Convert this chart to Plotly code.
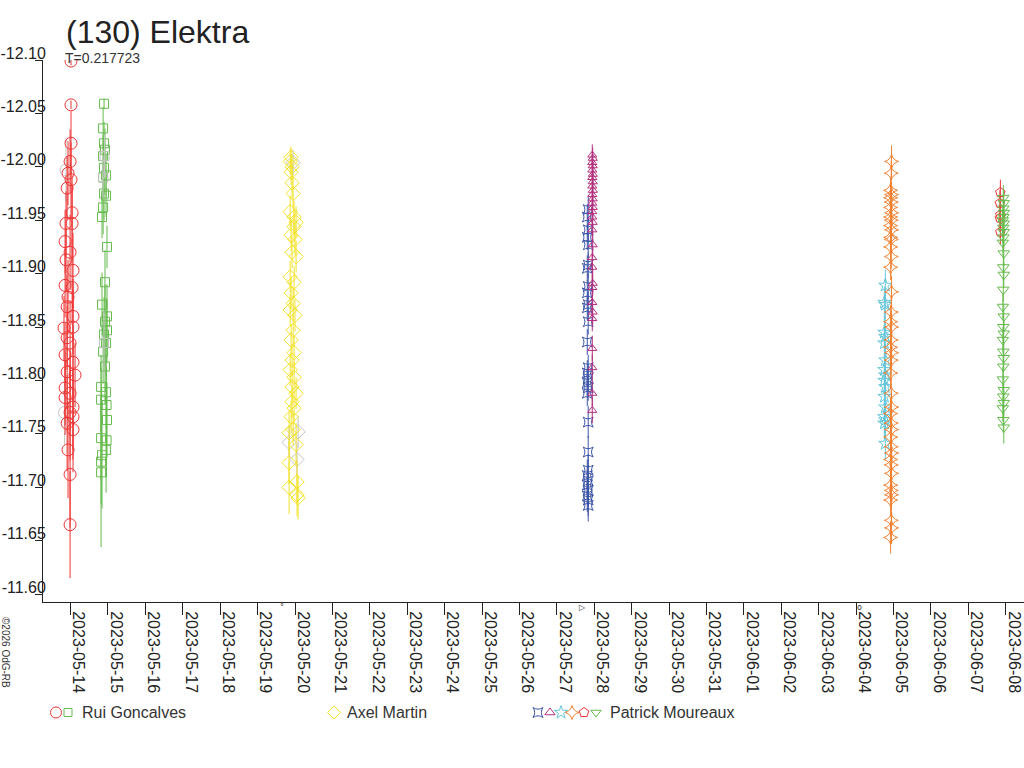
import pandas as pd
import plotly.graph_objects as go

# ---------------- data ----------------
title_text = "(130) Elektra"
subtitle_text = "T=0.217723"
copyright_text = "©2026 OdG-RB"

y_ticks = [-12.10, -12.05, -12.00, -11.95, -11.90, -11.85, -11.80, -11.75, -11.70, -11.65, -11.60]

# Rui Goncalves, red circles (hours relative to 2023-05-14 00:00)
rui_c_ref = "2023-05-14 00:00"
rui_c_h = [0.3, 0.3, 0.3, -0.3, -1.6, 0.3, -2.2, 1.0, -2.9, 1.0, -3.5, -0.3, -2.9, 1.6, -3.5, 1.0,
           -1.6, -2.2, 1.6, -4.2, 1.6, -2.2, -0.3, -3.5, 1.6, -2.2, 2.9, -3.5, -0.3, -3.5, 1.6, -0.3,
           1.6, -2.2, 1.6, -1.6, -0.3, -0.3]
rui_c_mag = [-12.099, -12.058, -12.022, -12.005, -11.994, -11.988, -11.980, -11.957, -11.947, -11.947,
             -11.930, -11.920, -11.913, -11.903, -11.889, -11.887, -11.878, -11.869, -11.860, -11.849,
             -11.850, -11.840, -11.835, -11.824, -11.817, -11.808, -11.805, -11.793, -11.788, -11.784,
             -11.775, -11.770, -11.766, -11.760, -11.754, -11.735, -11.712, -11.665]
rui_c_err = [0.004, 0.004, 0.030, 0.030, 0.030, 0.035, 0.030, 0.035, 0.030, 0.035, 0.030, 0.035,
             0.030, 0.035, 0.030, 0.035, 0.035, 0.030, 0.035, 0.030, 0.035, 0.030, 0.040, 0.030,
             0.035, 0.035, 0.030, 0.035, 0.040, 0.035, 0.040, 0.045, 0.040, 0.045, 0.040, 0.045,
             0.050, 0.050]

# Rui Goncalves, green squares (hours relative to 2023-05-15 00:00)
rui_s_ref = "2023-05-15 00:00"
rui_s_h = [-2.5, -3.1, -2.5, -1.9, -3.1, -2.5, -1.2, -3.1, -2.5, -1.2, -3.1, -3.8, -0.6, -1.9, -3.8,
           -0.6, -1.9, -0.6, -2.5, -1.2, -3.1, -1.9, -4.4, -1.2, -4.4, -0.9, -0.6, -4.4, -0.9, -1.2,
           -3.8, -4.4, -4.4]
rui_s_mag = [-12.059, -12.036, -12.022, -12.016, -12.010, -11.999, -11.992, -11.990, -11.975, -11.973,
             -11.962, -11.953, -11.925, -11.892, -11.871, -11.860, -11.855, -11.847, -11.843, -11.835,
             -11.827, -11.813, -11.794, -11.789, -11.782, -11.777, -11.763, -11.746, -11.744, -11.735,
             -11.730, -11.724, -11.714]
rui_s_err = [0.005, 0.020, 0.020, 0.020, 0.020, 0.025, 0.020, 0.020, 0.025, 0.020, 0.025, 0.020,
             0.020, 0.030, 0.030, 0.030, 0.035, 0.030, 0.035, 0.030, 0.030, 0.035, 0.030, 0.035,
             0.030, 0.035, 0.035, 0.040, 0.035, 0.040, 0.050, 0.040, 0.070]

# Axel Martin, yellow diamonds (hours relative to 2023-05-20 00:00)
axel_ref = "2023-05-20 00:00"
axel_h = [-2.5, -3.1, -1.9, -2.5, -1.9, -1.2, -3.1, -0.6, 0.7, -0.6, -2.5, 0.0, -1.9, 0.7, -3.1,
          -0.6, -2.5, -1.2, -3.1, 0.0, -1.2, -2.5, -0.6, -1.9, -3.1, -0.6, -1.9, 0.7, -1.9, -0.6,
          -2.5, -1.2, -3.8, 0.7, -3.8, 1.3, -3.8, 1.3, 2.0]
axel_mag = [-12.009, -12.005, -12.000, -11.995, -11.985, -11.975, -11.958, -11.953, -11.948, -11.944,
            -11.936, -11.932, -11.920, -11.916, -11.897, -11.892, -11.882, -11.872, -11.866, -11.861,
            -11.847, -11.838, -11.826, -11.819, -11.810, -11.803, -11.794, -11.788, -11.780, -11.774,
            -11.766, -11.754, -11.751, -11.740, -11.723, -11.705, -11.700, -11.693, -11.690]
axel_err = [0.010, 0.012, 0.012, 0.012, 0.015, 0.015, 0.015, 0.015, 0.015, 0.015, 0.015, 0.015,
            0.015, 0.015, 0.015, 0.015, 0.015, 0.015, 0.015, 0.015, 0.015, 0.015, 0.015, 0.015,
            0.015, 0.015, 0.015, 0.015, 0.015, 0.015, 0.015, 0.015, 0.020, 0.020, 0.020, 0.020,
            0.025, 0.020, 0.020]
axel_grey_h = [-3.8, 2.0, 1.3, -1.2]
axel_grey_mag = [-11.742, -11.752, -11.726, -12.004]
axel_grey_err = [0.015, 0.015, 0.015, 0.012]

# Patrick Moureaux, blue (hours relative to 2023-05-28 00:00)
pm_ref1 = "2023-05-28 00:00"
pm_b_h = [-3.9, -4.5, -3.9, -4.5, -3.9, -3.9, -4.5, -3.9, -4.5, -3.9, -4.5, -3.9, -4.5, -3.9, -4.5,
          -3.9, -4.5, -3.9, -4.5, -3.9, -3.9, -3.9, -4.5, -3.9, -4.5, -3.9, -4.5, -3.9, -3.9]
pm_b_mag = [-11.960, -11.953, -11.941, -11.934, -11.927, -11.908, -11.905, -11.888, -11.882, -11.871,
            -11.868, -11.855, -11.836, -11.812, -11.807, -11.802, -11.798, -11.793, -11.788, -11.761,
            -11.733, -11.716, -11.711, -11.706, -11.702, -11.697, -11.692, -11.688, -11.683]
pm_b_err = [0.012, 0.012, 0.012, 0.012, 0.012, 0.012, 0.012, 0.012, 0.012, 0.012, 0.012, 0.012,
            0.012, 0.012, 0.012, 0.012, 0.012, 0.012, 0.012, 0.015, 0.015, 0.015, 0.015, 0.015,
            0.015, 0.015, 0.015, 0.015, 0.015]

# Patrick Moureaux, magenta triangles
pm_m_h = [-1.3, -1.0, -1.3, -1.0, -1.3, -0.9, -1.3, -1.0, -1.3, -0.9, -1.3, -1.0, -1.3, -1.0, -1.3,
          -1.3, -1.0, -1.3, -1.0, -1.3, -1.3, -1.0, -1.3, -1.3, -1.0, -1.3, -1.3, -1.3, -1.3, -1.3]
pm_m_mag = [-12.011, -12.008, -12.004, -12.001, -11.997, -11.993, -11.990, -11.986, -11.982, -11.978,
            -11.974, -11.970, -11.966, -11.962, -11.958, -11.953, -11.948, -11.941, -11.927, -11.915,
            -11.906, -11.891, -11.887, -11.873, -11.864, -11.858, -11.830, -11.812, -11.788, -11.772]
pm_m_err = [0.010, 0.010, 0.010, 0.010, 0.010, 0.010, 0.010, 0.010, 0.010, 0.010, 0.010, 0.010,
            0.010, 0.010, 0.010, 0.010, 0.010, 0.010, 0.012, 0.012, 0.012, 0.012, 0.012, 0.012,
            0.012, 0.012, 0.012, 0.012, 0.012, 0.012]

# Patrick Moureaux, cyan stars (hours relative to 2023-06-05 00:00)
pm_ref2 = "2023-06-05 00:00"
pm_c_h = [-5.3, -5.9, -5.3, -5.9, -5.3, -5.9, -5.3, -5.9, -5.3, -5.9, -5.3, -5.9, -5.3, -5.9,
          -5.3, -5.9, -5.3]
pm_c_mag = [-11.889, -11.873, -11.871, -11.845, -11.841, -11.835, -11.819, -11.810, -11.805, -11.800,
            -11.794, -11.785, -11.775, -11.766, -11.763, -11.760, -11.741]
pm_c_err = [0.015, 0.015, 0.015, 0.015, 0.015, 0.015, 0.015, 0.015, 0.015, 0.015, 0.015, 0.015,
            0.015, 0.015, 0.015, 0.015, 0.015]

# Patrick Moureaux, orange four-point stars
pm_o_h = [-1.3, -1.5, -1.9, -1.3, -1.9, -1.5, -1.9, -1.3, -1.9, -1.5, -1.9, -1.3, -1.9, -1.5, -1.9,
          -1.5, -1.9, -1.3, -1.5, -1.9, -1.3, -1.5, -1.9, -1.3, -1.5, -1.9, -1.5, -1.3, -1.9, -1.5,
          -1.3, -1.9, -1.5, -1.3, -1.9, -1.5, -1.3, -1.9, -1.5, -1.3, -1.9, -1.5, -1.3, -1.9]
pm_o_mag = [-12.005, -11.994, -11.978, -11.974, -11.971, -11.967, -11.962, -11.957, -11.953, -11.950,
            -11.945, -11.941, -11.934, -11.932, -11.925, -11.916, -11.906, -11.883, -11.864, -11.855,
            -11.850, -11.838, -11.831, -11.826, -11.819, -11.807, -11.788, -11.775, -11.769, -11.760,
            -11.754, -11.747, -11.738, -11.732, -11.726, -11.721, -11.713, -11.702, -11.697, -11.693,
            -11.688, -11.669, -11.662, -11.653]
pm_o_err = [0.015, 0.012, 0.012, 0.012, 0.012, 0.012, 0.012, 0.012, 0.012, 0.012, 0.012, 0.012,
            0.012, 0.012, 0.012, 0.012, 0.012, 0.015, 0.015, 0.015, 0.015, 0.015, 0.015, 0.015,
            0.015, 0.015, 0.015, 0.015, 0.015, 0.015, 0.015, 0.015, 0.015, 0.015, 0.015, 0.015,
            0.015, 0.015, 0.015, 0.015, 0.015, 0.015, 0.015, 0.015]

# Patrick Moureaux, 2023-06-08 (hours relative to 2023-06-08 00:00)
pm_ref3 = "2023-06-08 00:00"
pm_p_h = [-3.5, -3.8, -3.5, -3.8, -3.5]
pm_p_mag = [-11.976, -11.966, -11.955, -11.952, -11.939]
pm_p_err = [0.012, 0.012, 0.012, 0.012, 0.012]

pm_g_h = [-1.6, -1.3, -1.6, -1.3, -1.6, -1.9, -1.3, -1.6, -1.3, -1.6, -1.9, -1.3, -1.6, -1.3, -1.6,
          -1.9, -1.3, -1.6, -1.3, -1.9, -1.6, -1.3, -1.6, -1.9, -1.3, -1.6, -1.3, -1.9, -1.6, -1.3]
pm_g_mag = [-11.971, -11.966, -11.961, -11.957, -11.953, -11.950, -11.947, -11.943, -11.939, -11.934,
            -11.929, -11.919, -11.906, -11.899, -11.885, -11.869, -11.860, -11.850, -11.844, -11.838,
            -11.827, -11.821, -11.813, -11.801, -11.791, -11.785, -11.779, -11.774, -11.763, -11.756]
pm_g_err = [0.012, 0.012, 0.012, 0.012, 0.012, 0.012, 0.012, 0.012, 0.012, 0.012, 0.012, 0.012,
            0.012, 0.012, 0.012, 0.012, 0.012, 0.012, 0.012, 0.012, 0.012, 0.012, 0.012, 0.012,
            0.012, 0.012, 0.012, 0.012, 0.012, 0.015]

# grey (unused) points
grey_sq_h = [-2.2, -3.1, -2.5]
grey_sq_mag = [-12.010, -11.990, -11.835]
grey_sq_err = [0.02, 0.02, 0.03]
grey_c_h = [-3.9, -2.9]
grey_c_mag = [-11.770, -11.997]
grey_c_err = [0.03, 0.03]

legend_groups = ["Rui Goncalves", "Axel Martin", "Patrick Moureaux"]

# ---------------- styles ----------------
RED = "#ee3535"
GREEN = "#66bb4e"
YELLOW = "#f2e22a"
BLUE = "#3d55a8"
MAGENTA = "#b3307e"
CYAN = "#66c6d9"
ORANGE = "#f28030"
GREY = "#c4c4c4"
TXT = "#222222"
FONT = "Liberation Sans, Arial"


def times(ref, hours):
    return pd.Timestamp(ref) + pd.to_timedelta(hours, unit="h")


def add_series(fig, ref, h, mag, err, color, symbol, size):
    fig.add_trace(go.Scatter(
        x=times(ref, h), y=mag, mode="markers",
        marker=dict(symbol=symbol, size=size, color=color, line=dict(color=color, width=1)),
        error_y=dict(type="data", array=err, thickness=1, width=0, color=color),
        showlegend=False, hoverinfo="skip"))


fig = go.Figure()
add_series(fig, rui_c_ref, grey_c_h, grey_c_mag, grey_c_err, GREY, "circle-open", 12)
add_series(fig, rui_c_ref, rui_c_h, rui_c_mag, rui_c_err, RED, "circle-open", 12)
add_series(fig, rui_s_ref, rui_s_h, rui_s_mag, rui_s_err, GREEN, "square-open", 9)
add_series(fig, rui_s_ref, grey_sq_h, grey_sq_mag, grey_sq_err, GREY, "square-open", 9)
add_series(fig, axel_ref, axel_grey_h, axel_grey_mag, axel_grey_err, GREY, "diamond-open", 11)
add_series(fig, axel_ref, axel_h, axel_mag, axel_err, YELLOW, "diamond-open", 11)
add_series(fig, pm_ref1, pm_b_h, pm_b_mag, pm_b_err, BLUE, "star-square-open", 9)
add_series(fig, pm_ref1, pm_m_h, pm_m_mag, pm_m_err, MAGENTA, "triangle-up-open", 8)
add_series(fig, pm_ref2, pm_c_h, pm_c_mag, pm_c_err, CYAN, "star-open", 10)
add_series(fig, pm_ref2, pm_o_h, pm_o_mag, pm_o_err, ORANGE, "star-diamond-open", 10)
add_series(fig, pm_ref3, pm_p_h, pm_p_mag, pm_p_err, RED, "pentagon-open", 10)
add_series(fig, pm_ref3, pm_g_h, pm_g_mag, pm_g_err, GREEN, "triangle-down-open", 10)

# legend row drawn on an auxiliary axis
leg_symbols = [
    (56, RED, "circle-open", 11), (68, GREEN, "square-open", 8),
    (334, YELLOW, "diamond-open", 10),
    (538, BLUE, "star-square-open", 9), (550, MAGENTA, "triangle-up-open", 9),
    (561, CYAN, "star-open", 10), (572, ORANGE, "star-diamond-open", 10),
    (584, RED, "pentagon-open", 10), (596, GREEN, "triangle-down-open", 9),
]
for px, col, sym, sz in leg_symbols:
    fig.add_trace(go.Scatter(x=[px], y=[0.5], xaxis="x2", yaxis="y2", mode="markers",
                             marker=dict(symbol=sym, size=sz, color=col, line=dict(color=col, width=1)),
                             showlegend=False, hoverinfo="skip"))

W, H = 1024, 768
plot_left, plot_top, plot_bottom = 43, 60, 602
y_bottom_val = -11.5926

annotations = [
    dict(text=title_text, x=64 / W, y=1 - 12 / H, xref="paper", yref="paper", xanchor="left",
         yanchor="top", showarrow=False, font=dict(family=FONT, size=32, color=TXT)),
    dict(text=subtitle_text, x=63 / W, y=1 - 58 / H, xref="paper", yref="paper", xanchor="left",
         yanchor="middle", showarrow=False, font=dict(family=FONT, size=14, color="#333")),
    dict(text=copyright_text, x=6 / W, y=1 - 652 / H, xref="paper", yref="paper", xanchor="center",
         yanchor="middle", textangle=90, showarrow=False,
         font=dict(family=FONT, size=10, color="#333")),
]
leg_text_pos = [80, 345, 608]
for name, px in zip(legend_groups, leg_text_pos):
    annotations.append(dict(text=name, x=px / W, y=1 - 712 / H, xref="paper", yref="paper",
                            xanchor="left", yanchor="middle", showarrow=False,
                            font=dict(family=FONT, size=16, color="#333")))
for txt, px in [("°", 282), ("▷", 582), ("o", 859)]:
    annotations.append(dict(text=txt, x=px / W, y=1 - 607 / H, xref="paper", yref="paper",
                            xanchor="center", yanchor="middle", showarrow=False,
                            font=dict(family="DejaVu Sans", size=8, color="#333")))

fig.update_layout(
    width=W, height=H,
    margin=dict(l=0, r=0, t=0, b=0, pad=0),
    paper_bgcolor="white", plot_bgcolor="white",
    showlegend=False,
    font=dict(family=FONT, size=16, color=TXT),
    xaxis=dict(
        type="date", domain=[plot_left / W, 1], automargin=False,
        range=["2023-05-13 06:20", "2023-06-08 11:40"],
        dtick=86400000, tick0="2023-05-14", tickformat="%Y-%m-%d", tickangle=90,
        ticks="outside", ticklen=12, tickcolor="#222", tickwidth=1,
        showline=True, linecolor="#222", linewidth=1, showgrid=False, zeroline=False,
        ticklabelshift=8, ticklabelstandoff=-7,
        tickfont=dict(family=FONT, size=16, color=TXT),
        anchor="y",
    ),
    yaxis=dict(
        domain=[1 - plot_bottom / H, 1 - plot_top / H], automargin=False,
        range=[y_bottom_val, -12.10],
        tickvals=y_ticks, ticktext=[f"{v:.2f}" for v in y_ticks],
        ticks="outside", ticklen=7, tickcolor="#222", tickwidth=1,
        showline=True, linecolor="#222", linewidth=1, showgrid=False, zeroline=False,
        ticklabelstandoff=-14, ticklabelshift=7,
        tickfont=dict(family=FONT, size=16, color=TXT),
        anchor="x",
    ),
    xaxis2=dict(domain=[0, 1], range=[0, W], visible=False, anchor="y2", fixedrange=True,
                automargin=False),
    yaxis2=dict(domain=[1 - 725 / H, 1 - 700 / H], range=[0, 1], visible=False, anchor="x2",
                fixedrange=True, automargin=False),
    annotations=annotations,
)

fig.write_html("out.html", config={"displayModeBar": False},
               post_script="document.body.style.margin='0';")
